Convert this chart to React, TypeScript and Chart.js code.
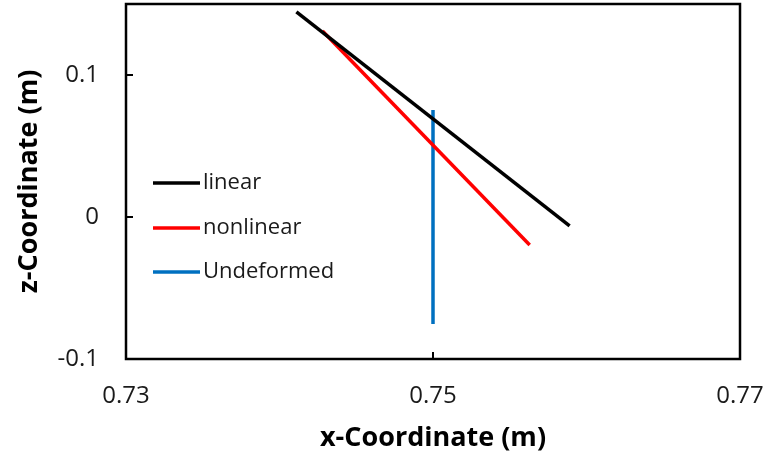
import React, { useEffect, useRef } from "react";
import { Chart, registerables } from "chart.js";

Chart.register(...registerables);

// Beam centre-line coordinates (m)
const linearX = [0.7411, 0.7589];
const linearZ = [0.1444, -0.0063];
const nonlinearX = [0.7428, 0.7563];
const nonlinearZ = [0.131, -0.0197];
const undeformedX = [0.75, 0.75];
const undeformedZ = [0.0754, -0.0754];

const xTicks = [0.73, 0.75, 0.77];
const zTicks = [-0.1, 0, 0.1];

const seriesNames = ["linear", "nonlinear", "Undeformed"];
const seriesColors = ["#000000", "#ff0000", "#0070c0"];

const FONT = "'Open Sans', 'Noto Sans', sans-serif";

const toPoints = (xs: number[], zs: number[]) => xs.map((x, i) => ({ x, y: zs[i] }));

// Frame around the plot area, inward tick marks and the inset legend
const framePlugin = {
  id: "frame",
  afterDraw(chart: any) {
    const { ctx, chartArea: a, scales } = chart;
    ctx.save();
    ctx.strokeStyle = "#000";
    ctx.lineWidth = 2.5;
    ctx.strokeRect(a.left, a.top, a.right - a.left, a.bottom - a.top);

    ctx.lineWidth = 2;
    ctx.beginPath();
    xTicks.forEach((v) => {
      const px = scales.x.getPixelForValue(v);
      if (px > a.left + 2 && px < a.right - 2) {
        ctx.moveTo(px, a.bottom);
        ctx.lineTo(px, a.bottom - 7);
      }
    });
    zTicks.forEach((v) => {
      const py = scales.y.getPixelForValue(v);
      if (py > a.top + 2 && py < a.bottom - 2) {
        ctx.moveTo(a.left, py);
        ctx.lineTo(a.left + 7, py);
      }
    });
    ctx.stroke();

    // legend
    ctx.font = `22px ${FONT}`;
    ctx.textBaseline = "middle";
    ctx.textAlign = "left";
    const rows = [183, 228, 272];
    seriesNames.forEach((name, i) => {
      const y = rows[i];
      ctx.strokeStyle = seriesColors[i];
      ctx.lineWidth = 3.5;
      ctx.beginPath();
      ctx.moveTo(a.left + 27, y);
      ctx.lineTo(a.left + 74, y);
      ctx.stroke();
      ctx.fillStyle = "#1a1a1a";
      ctx.fillText(name, a.left + 77, y);
    });
    ctx.restore();
  },
};

export default function App() {
  const ref = useRef<HTMLCanvasElement>(null);

  useEffect(() => {
    document.body.style.margin = "0";
    const canvas = ref.current;
    if (!canvas) return;
    const mk = (xs: number[], zs: number[], i: number) => ({
      label: seriesNames[i],
      data: toPoints(xs, zs),
      showLine: true,
      borderColor: seriesColors[i],
      backgroundColor: seriesColors[i],
      borderWidth: 3.5,
      pointRadius: 0,
      tension: 0,
    });
    const chart = new Chart(canvas, {
      type: "scatter",
      data: {
        datasets: [
          mk(linearX, linearZ, 0),
          mk(nonlinearX, nonlinearZ, 1),
          mk(undeformedX, undeformedZ, 2),
        ],
      },
      options: {
        animation: false,
        responsive: false,
        maintainAspectRatio: false,
        layout: { padding: { left: 0, top: 4, right: 25, bottom: 0 } },
        plugins: { legend: { display: false }, tooltip: { enabled: false } },
        scales: {
          x: {
            type: "linear",
            min: 0.73,
            max: 0.77,
            afterBuildTicks: (s: any) => {
              s.ticks = xTicks.map((value) => ({ value }));
            },
            afterFit: (s: any) => {
              s.height = 97;
              s.paddingLeft = 0;
              s.paddingRight = 0;
            },
            grid: { display: false, drawTicks: false },
            border: { display: false },
            ticks: {
              padding: 23,
              color: "#1a1a1a",
              font: { family: FONT, size: 24 },
              callback: (v: any) => Number(v).toFixed(2),
            },
            title: {
              display: true,
              text: "x-Coordinate (m)",
              color: "#000",
              font: { family: FONT, size: 27, weight: "bold" },
              padding: { top: 0, bottom: 1 },
            },
          },
          y: {
            type: "linear",
            min: -0.1,
            max: 0.15,
            afterBuildTicks: (s: any) => {
              s.ticks = zTicks.map((value) => ({ value }));
            },
            afterFit: (s: any) => {
              s.width = 126;
              s.paddingTop = 0;
              s.paddingBottom = 0;
            },
            grid: { display: false, drawTicks: false },
            border: { display: false },
            ticks: {
              padding: 27,
              color: "#1a1a1a",
              font: { family: FONT, size: 24 },
              callback: (v: any) => {
                const n = Math.round(Number(v) * 1000) / 1000;
                return n === 0 ? "0" : String(n);
              },
            },
            title: {
              display: true,
              text: "z-Coordinate (m)",
              color: "#000",
              font: { family: FONT, size: 27, weight: "bold" },
              padding: { top: 13, bottom: 0 },
            },
          },
        },
      },
      plugins: [framePlugin],
    });
    return () => chart.destroy();
  }, []);

  return (
    <div style={{ width: 765, height: 456, background: "#fff" }}>
      <canvas ref={ref} width={765} height={456} />
    </div>
  );
}
